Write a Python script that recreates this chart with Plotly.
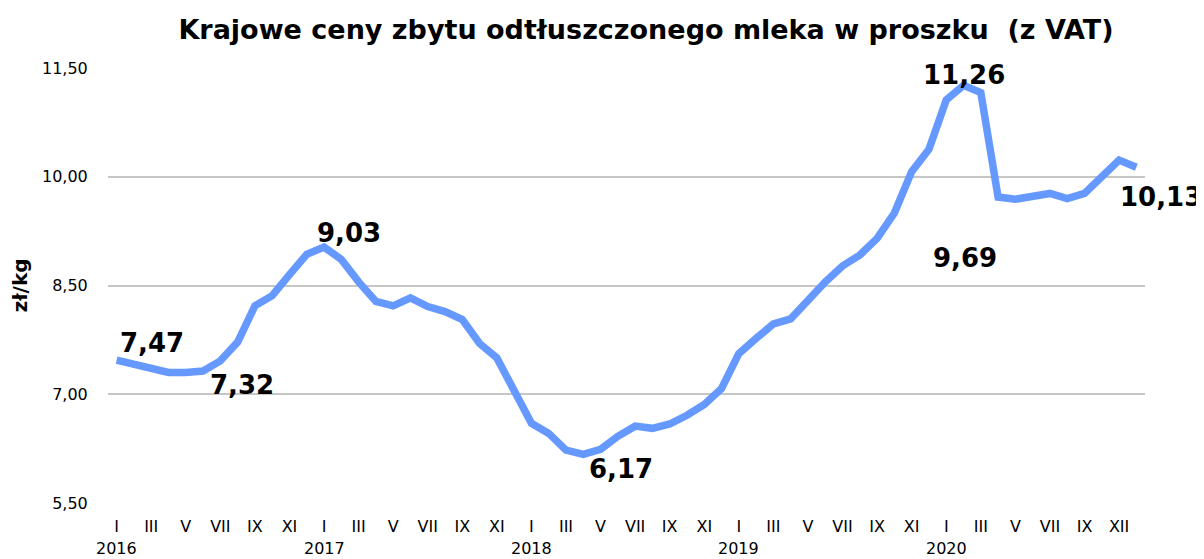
import plotly.graph_objects as go

years = ["2016", "2017", "2018", "2019", "2020"]
month_labels = ["I", "III", "V", "VII", "IX", "XI"]
last_label = "XII"

prices = [
    7.47, 7.42, 7.36, 7.30, 7.30, 7.32, 7.46, 7.72, 8.22, 8.36, 8.65, 8.93,   # 2016
    9.03, 8.86, 8.55, 8.28, 8.22, 8.33, 8.21, 8.14, 8.03, 7.70, 7.50, 7.06,   # 2017
    6.60, 6.46, 6.23, 6.17, 6.24, 6.42, 6.56, 6.53, 6.59, 6.71, 6.86, 7.08,   # 2018
    7.56, 7.77, 7.97, 8.04, 8.31, 8.55, 8.77, 8.92, 9.15, 9.50, 10.07, 10.38, # 2019
    11.06, 11.26, 11.16, 9.72, 9.69, 9.72, 9.77, 9.70, 9.77, 10.00, 10.23, 10.13,  # 2020
]

# indices of labelled points
label_idx = [0, 5, 12, 27, 49, 52, 59]
label_off = {0: (35, -17), 5: (39, 14), 12: (25, -14), 27: (38, 15),
             49: (0, -10), 52: (-50, 59), 59: (25, 30)}

x = list(range(len(prices)))

tickvals = list(range(0, len(prices), 2))
ticktext = []
for i, tv in enumerate(tickvals):
    ticktext.append(month_labels[i % 6])
ticktext[-1] = last_label

fig = go.Figure()
fig.add_trace(go.Scatter(
    x=x, y=prices, mode="lines",
    line=dict(color="#6699FF", width=7.5),
    hoverinfo="skip", showlegend=False,
))

for i in label_idx:
    dx, dy = label_off[i]
    fig.add_annotation(
        x=i, y=prices[i], xref="x", yref="y",
        text=f"{prices[i]:.2f}".replace(".", ","),
        showarrow=False, xshift=dx, yshift=-dy,
        font=dict(family="DejaVu Sans", size=26, color="#000000", weight="bold"),
    )

for k, yr in enumerate(years):
    fig.add_annotation(
        x=k * 12, y=0, xref="x", yref="paper",
        text=yr, showarrow=False, yshift=-45, yanchor="middle",
        font=dict(family="DejaVu Sans", size=16, color="#000000"),
    )

fig.update_layout(
    width=1196, height=551,
    margin=dict(l=95, r=59, t=60, b=56),
    paper_bgcolor="white", plot_bgcolor="white",
    separators=", ",
    title=dict(
        text="<b>Krajowe ceny zbytu odtłuszczonego mleka w proszku  (z VAT)</b>",
        x=638 / 1196, xanchor="center", y=1 - 22 / 551, yanchor="middle",
        xref="container", yref="container",
        font=dict(family="DejaVu Sans", size=27, color="#000000"),
    ),
    xaxis=dict(
        range=[-0.5, len(prices) - 0.5],
        tickmode="array", tickvals=tickvals, ticktext=ticktext,
        showgrid=False, zeroline=False,
        ticks="outside", ticklen=9, tickcolor="rgba(0,0,0,0)",
        tickfont=dict(family="DejaVu Sans", size=16, color="#000000"),
        showline=False,
    ),
    yaxis=dict(
        range=[5.5, 11.5], tickmode="array",
        tickvals=[5.5, 7.0, 8.5, 10.0, 11.5],
        tickformat=".2f",
        showgrid=True, gridcolor="#C6C6C6", gridwidth=1.5,
        zeroline=False, ticks="outside", ticklen=16, tickcolor="rgba(0,0,0,0)",
        tickfont=dict(family="DejaVu Sans", size=16, color="#000000"),
        title=dict(text="<b>zł/kg</b>", standoff=8,
                   font=dict(family="DejaVu Sans", size=20, color="#000000")),
    ),
)

fig.write_html("out.html")
